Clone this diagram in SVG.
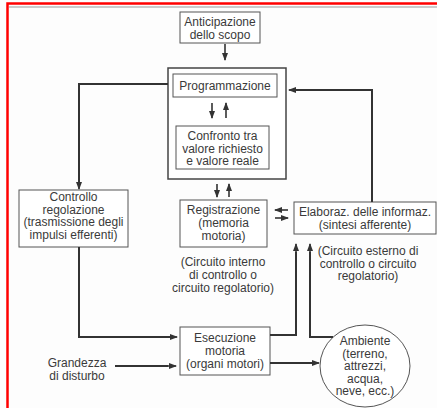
<svg xmlns="http://www.w3.org/2000/svg" width="437" height="408" viewBox="0 0 437 408">
<defs>
<style>
.box{fill:#fff;stroke:#555;stroke-width:1}
.outer{fill:#fff;stroke:#444;stroke-width:1.5}
.t{font-family:"Liberation Sans",Arial,sans-serif;font-size:12px;fill:#3a3a3a;text-anchor:middle}
.c{fill:none;stroke:#333;stroke-width:2}
.a{fill:none;stroke:#333;stroke-width:1.6;marker-end:url(#ah)}
</style>
<marker id="ah" markerUnits="userSpaceOnUse" markerWidth="8" markerHeight="8" viewBox="0 0 8 8" refX="7" refY="4" orient="auto">
<path d="M0,1 L8,4 L0,7 Z" fill="#333"/>
</marker>
</defs>
<rect x="0" y="0" width="437" height="408" fill="#fdfdfd"/>
<line x1="9" y1="7" x2="437" y2="7" stroke="#999" stroke-width="1"/>
<path d="M7.5,408 V3.5 H437" fill="none" stroke="#f00" stroke-width="2.5"/>

<g id="anticipazione">
<rect class="box" x="180" y="12" width="80" height="31"/>
<text class="t" x="220" y="26">Anticipazione</text>
<text class="t" x="220" y="38.5">dello scopo</text>
</g>

<g id="outer">
<rect class="outer" x="168" y="68" width="118" height="111"/>
</g>

<g id="programmazione">
<rect class="box" x="173" y="74" width="104" height="23"/>
<text class="t" x="225" y="89.5">Programmazione</text>
</g>

<g id="confronto">
<rect class="box" x="176" y="126" width="93" height="43"/>
<text class="t" x="222.5" y="140">Confronto tra</text>
<text class="t" x="222.5" y="152.5">valore richiesto</text>
<text class="t" x="222.5" y="165">e valore reale</text>
</g>

<g id="controllo">
<rect class="box" x="19" y="190" width="109" height="57"/>
<text class="t" x="73.5" y="201">Controllo</text>
<text class="t" x="73.5" y="213.5">regolazione</text>
<text class="t" x="73.5" y="226">(trasmissione degli</text>
<text class="t" x="73.5" y="238.5">impulsi efferenti)</text>
</g>

<g id="registrazione">
<rect class="box" x="180" y="200" width="87" height="47"/>
<text class="t" x="223.5" y="214">Registrazione</text>
<text class="t" x="223.5" y="227">(memoria</text>
<text class="t" x="223.5" y="240">motoria)</text>
</g>

<g id="elaborazione">
<rect class="box" x="294" y="202" width="142" height="32"/>
<text class="t" x="365" y="216">Elaboraz. delle informaz.</text>
<text class="t" x="365" y="229">(sintesi afferente)</text>
</g>

<g id="circuito-interno">
<text class="t" x="223" y="266">(Circuito interno</text>
<text class="t" x="223" y="279">di controllo o</text>
<text class="t" x="223" y="292">circuito regolatorio)</text>
</g>

<g id="circuito-esterno">
<text class="t" x="368" y="255">(Circuito esterno di</text>
<text class="t" x="368" y="267.5">controllo o circuito</text>
<text class="t" x="368" y="280">regolatorio)</text>
</g>

<g id="esecuzione">
<rect class="box" x="180" y="327" width="90" height="48"/>
<text class="t" x="225" y="342">Esecuzione</text>
<text class="t" x="225" y="355">motoria</text>
<text class="t" x="225" y="368">(organi motori)</text>
</g>

<g id="grandezza">
<text class="t" x="77" y="367">Grandezza</text>
<text class="t" x="77" y="380">di disturbo</text>
</g>

<g id="ambiente">
<ellipse cx="365" cy="366" rx="45" ry="41" fill="#fff" stroke="#555" stroke-width="1"/>
<text class="t" x="365" y="345">Ambiente</text>
<text class="t" x="365" y="357.5">(terreno,</text>
<text class="t" x="365" y="370">attrezzi,</text>
<text class="t" x="365" y="382.5">acqua,</text>
<text class="t" x="365" y="395">neve, ecc.)</text>
</g>

<g id="connectors">
<line class="a" x1="225" y1="44" x2="225" y2="60"/>
<line class="a" x1="212" y1="103" x2="212" y2="118"/>
<line class="a" x1="226" y1="118" x2="226" y2="103"/>
<line class="a" x1="217" y1="184" x2="217" y2="197"/>
<line class="a" x1="229" y1="197" x2="229" y2="184"/>
<line class="a" x1="288" y1="210" x2="275" y2="210"/>
<line class="a" x1="275" y1="218" x2="288" y2="218"/>
<polyline class="c" points="168,84 79,84 79,183"/>
<line class="a" x1="79" y1="182" x2="79" y2="189"/>
<polyline class="c" points="79,247 79,337 170,337"/>
<line class="a" x1="168" y1="337" x2="177" y2="337"/>
<polyline class="c" points="372,202 372,90 296,90"/>
<line class="a" x1="298" y1="90" x2="289" y2="90"/>
<polyline class="c" points="270,335 296,335 296,252"/>
<line class="a" x1="296" y1="253" x2="296" y2="244"/>
<polyline class="c" points="333,337 310,337 310,252"/>
<line class="a" x1="310" y1="253" x2="310" y2="244"/>
<line class="c" x1="270" y1="363" x2="312" y2="363"/>
<line class="a" x1="310" y1="363" x2="319" y2="363"/>
<line class="c" x1="115" y1="366" x2="168" y2="366"/>
<line class="a" x1="166" y1="366" x2="176" y2="366"/>
</g>
</svg>
